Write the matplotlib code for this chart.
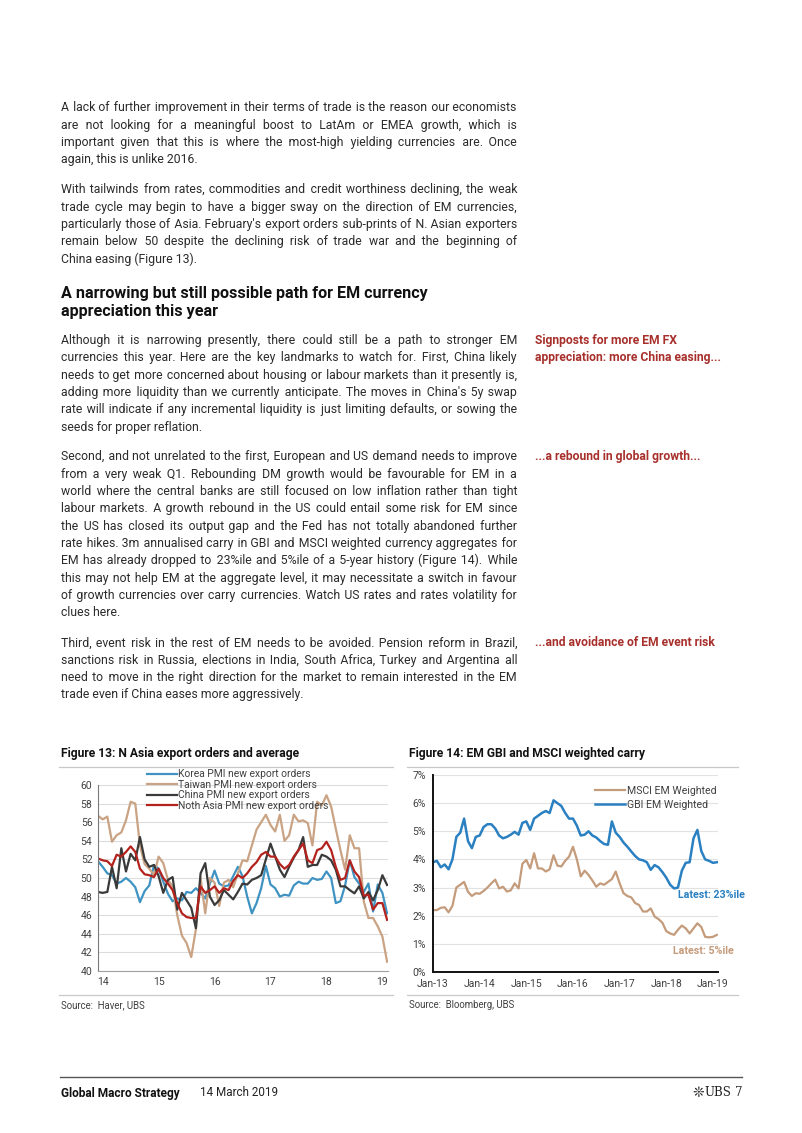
import numpy as np
import matplotlib
matplotlib.use("Agg")
import matplotlib.pyplot as plt
from matplotlib.lines import Line2D

# ---------------- data ----------------
# Figure 13: monthly PMI new export orders, Dec-2013 .. Feb-2019
fig13_ticklabels = ["14", "15", "16", "17", "18", "19"]
korea = [51.8, 51.2, 50.5, 50.3, 49.4, 49.6, 50.0, 49.6, 49.0, 47.4,
         48.6, 49.2, 51.4, 51.0, 49.6, 48.3, 47.5, 47.8, 47.6, 48.5,
         48.4, 48.9, 48.4, 47.8, 49.4, 50.8, 49.4, 49.1, 49.2, 50.2,
         51.2, 50.2, 48.0, 46.2, 47.3, 48.9, 51.3, 49.3, 48.9, 48.0,
         48.2, 48.1, 49.2, 49.6, 49.4, 49.4, 50.0, 49.8, 49.9, 50.7,
         50.0, 47.3, 47.5, 49.2, 51.9, 50.1, 49.4, 48.5, 49.4, 46.4,
         49.3, 48.4, 46.2]
taiwan = [56.7, 56.3, 56.6, 53.9, 54.6, 54.9, 56.2, 58.2, 58.0, 53.5,
          51.5, 51.0, 50.3, 52.3, 51.6, 49.8, 49.1, 46.0, 43.8, 43.0,
          41.5, 44.5, 50.0, 46.2, 50.0, 49.5, 47.0, 49.5, 49.8, 49.0,
          50.5, 51.9, 51.8, 53.5, 55.2, 56.0, 56.8, 55.7, 55.0, 56.8,
          54.0, 54.6, 56.8, 56.1, 56.2, 55.9, 53.5, 58.2, 57.8, 58.9,
          57.7, 55.3, 53.0, 50.9, 54.6, 53.2, 53.2, 47.5, 45.7, 45.7,
          44.8, 43.7, 41.0]
china = [48.5, 48.4, 48.5, 51.2, 48.9, 53.2, 50.7, 52.6, 51.9, 54.4,
         52.0, 51.2, 51.4, 50.2, 48.4, 49.8, 50.1, 46.6, 48.4, 47.6,
         46.8, 44.6, 50.5, 51.6, 48.0, 47.1, 47.6, 48.7, 48.2, 47.7,
         48.5, 49.4, 49.3, 49.8, 50.0, 50.3, 52.0, 53.7, 52.3, 50.9,
         50.1, 51.2, 52.2, 53.0, 54.4, 51.2, 51.4, 51.4, 52.5, 52.3,
         51.9, 50.9, 49.1, 49.1, 48.7, 48.35, 49.1, 47.8, 48.5, 47.6,
         48.7, 50.3, 49.25]
north_asia = [52.1, 51.9, 51.8, 51.3, 52.5, 52.3, 52.8, 53.4, 52.8, 51.0,
              50.4, 50.3, 50.1, 51.0, 50.0, 49.4, 48.7, 47.3, 46.2, 45.8,
              45.7, 45.7, 49.1, 48.4, 48.7, 49.1, 48.4, 48.9, 48.7, 49.7,
              50.3, 50.0, 50.5, 51.2, 51.7, 52.5, 52.8, 52.3, 52.3, 51.5,
              51.0, 51.4, 52.3, 53.0, 53.7, 51.9, 51.6, 53.0, 53.2, 53.9,
              53.0, 51.2, 49.8, 50.0, 51.9, 50.7, 50.1, 48.1, 48.2, 46.6,
              47.3, 47.3, 45.5]
fig13_series = ["Korea PMI new export orders", "Taiwan PMI new export orders",
                "China PMI new export orders", "Noth Asia PMI new export orders"]

# Figure 14: 3m annualised carry (%), monthly Jan-2013 .. Feb-2019
fig14_ticklabels = ["Jan-13", "Jan-14", "Jan-15", "Jan-16", "Jan-17", "Jan-18", "Jan-19"]
gbi_em = [3.9, 3.95, 3.72, 3.82, 3.65, 4.0, 4.8, 4.95, 5.45, 4.65,
          4.4, 4.8, 4.85, 5.15, 5.25, 5.25, 5.1, 4.85, 4.75, 4.8,
          4.88, 4.98, 4.88, 5.3, 5.35, 5.05, 5.45, 5.55, 5.65, 5.72,
          5.65, 6.1, 6.0, 5.9, 5.65, 5.45, 5.45, 5.2, 4.85, 4.88,
          5.0, 4.85, 4.78, 4.65, 4.55, 4.52, 5.35, 4.95, 4.8, 4.6,
          4.45, 4.28, 4.12, 4.0, 3.97, 3.9, 3.63, 3.8, 3.72, 3.55,
          3.35, 3.1, 2.97, 3.0, 3.6, 3.88, 3.9, 4.75, 5.05, 4.3,
          4.0, 3.95, 3.88, 3.9]
msci_em = [2.2, 2.2, 2.28, 2.3, 2.12, 2.35, 3.0, 3.1, 3.2, 2.85,
           2.7, 2.8, 2.78, 2.88, 3.0, 3.15, 3.28, 2.97, 3.03, 2.86,
           2.9, 3.15, 2.97, 3.85, 3.98, 3.68, 4.22, 3.68, 3.68, 3.57,
           3.65, 4.15, 3.78, 3.75, 3.95, 4.1, 4.45, 4.0, 3.4, 3.6,
           3.45, 3.25, 3.03, 3.15, 3.1, 3.2, 3.3, 3.57, 3.15, 2.8,
           2.7, 2.65, 2.45, 2.38, 2.15, 2.15, 2.26, 1.97, 1.88, 1.75,
           1.45, 1.37, 1.32, 1.5, 1.65, 1.55, 1.37, 1.55, 1.73, 1.6,
           1.25, 1.23, 1.25, 1.32]
fig14_series = ["MSCI EM Weighted", "GBI EM Weighted"]

# ---------------- page text ----------------
para1 = ["A lack of further improvement in their terms of trade is the reason our economists",
         "are not looking for a meaningful boost to LatAm or EMEA growth, which is",
         "important given that this is where the most-high yielding currencies are. Once",
         "again, this is unlike 2016."]
para2 = ["With tailwinds from rates, commodities and credit worthiness declining, the weak",
         "trade cycle may begin to have a bigger sway on the direction of EM currencies,",
         "particularly those of Asia. February's export orders sub-prints of N. Asian exporters",
         "remain below 50 despite the declining risk of trade war and the beginning of",
         "China easing (Figure 13)."]
heading = ["A narrowing but still possible path for EM currency", "appreciation this year"]
para3 = ["Although it is narrowing presently, there could still be a path to stronger EM",
         "currencies this year. Here are the key landmarks to watch for. First, China likely",
         "needs to get more concerned about housing or labour markets than it presently is,",
         "adding more liquidity than we currently anticipate. The moves in China's 5y swap",
         "rate will indicate if any incremental liquidity is just limiting defaults, or sowing the",
         "seeds for proper reflation."]
para4 = ["Second, and not unrelated to the first, European and US demand needs to improve",
         "from a very weak Q1. Rebounding DM growth would be favourable for EM in a",
         "world where the central banks are still focused on low inflation rather than tight",
         "labour markets. A growth rebound in the US could entail some risk for EM since",
         "the US has closed its output gap and the Fed has not totally abandoned further",
         "rate hikes. 3m annualised carry in GBI and MSCI weighted currency aggregates for",
         "EM has already dropped to 23%ile and 5%ile of a 5-year history (Figure 14). While",
         "this may not help EM at the aggregate level, it may necessitate a switch in favour",
         "of growth currencies over carry currencies. Watch US rates and rates volatility for",
         "clues here."]
para5 = ["Third, event risk in the rest of EM needs to be avoided. Pension reform in Brazil,",
         "sanctions risk in Russia, elections in India, South Africa, Turkey and Argentina all",
         "need to move in the right direction for the market to remain interested in the EM",
         "trade even if China eases more aggressively."]

W, H = 802, 1133
FONT = "Roboto"
BODY = [FONT, "DejaVu Sans"]
TXT = "#2b2b2b"
RED = "#a8302c"

fig = plt.figure(figsize=(W / 100, H / 100), dpi=100)
fig.patch.set_facecolor("white")
renderer = fig.canvas.get_renderer()


def fx(x):
    return x / W


def fy(y):
    return 1 - y / H


_cache = {}


def tw(s, fs):
    key = (s, fs)
    if key not in _cache:
        t = fig.text(0, 0, s, fontsize=fs, family=BODY)
        _cache[key] = t.get_window_extent(renderer).width
        t.remove()
    return _cache[key]


X0, X1 = 61, 517
DY = 17.35
BASE = 3.8  # baseline offset from visual line centre (px)
paras = [(para1, 107.5), (para2, 189.5), (para3, 340.0), (para4, 456.5), (para5, 642.5)]

# font size so that the densest full line fits the column
fs0 = 9.0
ratios = []
for lines, _ in paras:
    for ln in lines[:-1]:
        ratios.append((X1 - X0) / tw(ln, fs0))
FS = round(fs0 * min(ratios) * 0.99, 2)

HAIR = "\u200a"
sp1 = tw("n n", FS) - 2 * tw("n", FS)            # one ordinary space between words
spk = tw("n  n", FS) - tw("n n", FS)             # each extra ordinary space
hsp = (tw("n" + HAIR * 10 + "n", FS) - 2 * tw("n", FS)) / 10.0   # hair space


def justify(words):
    """Return one string whose inter-word gaps are padded with spaces so that
    the line fills the column width."""
    ws = [tw(w, FS) for w in words]
    gap = (X1 - X0 - sum(ws)) / (len(words) - 1)
    out = words[0]
    err = 0.0
    for w in words[1:]:
        g = gap + err
        k = 1 + max(0, int((g - sp1) // spk)) if g > sp1 else 1
        used = sp1 + (k - 1) * spk
        h = max(0, int(round((g - used) / hsp))) if hsp > 0.05 else 0
        used += h * hsp
        err = g - used
        out += " " * k + HAIR * h + w
    return out


def draw_para(lines, y0):
    for k, ln in enumerate(lines):
        y = y0 + k * DY + BASE
        s = ln if k == len(lines) - 1 else justify(ln.split())
        fig.text(fx(X0), fy(y), s, fontsize=FS, family=BODY, color=TXT,
                 ha="left", va="baseline")


for lines, y0 in paras:
    draw_para(lines, y0)

for k, h in enumerate(heading):
    fig.text(fx(61), fy(293 + k * 18.2 + 4.8), h, fontsize=11.6, family=FONT, weight="bold",
             color="#111111", ha="left", va="baseline")

side = [("Signposts for more EM FX", 340.0), ("appreciation: more China easing...", 357.3),
        ("...a rebound in global growth...", 456.5), ("...and avoidance of EM event risk", 642.5)]
for s, y in side:
    fig.text(fx(535), fy(y + BASE), s, fontsize=8.7, family=FONT, weight="bold", color=RED,
             ha="left", va="baseline")

# ---------------- figure titles / rules / sources ----------------
fig.text(fx(61), fy(756.5), "Figure 13: N Asia export orders and average", fontsize=8.7,
         family=FONT, weight="bold", color="#111111", ha="left", va="baseline")
fig.text(fx(409), fy(756.5), "Figure 14: EM GBI and MSCI weighted carry", fontsize=8.7,
         family=FONT, weight="bold", color="#111111", ha="left", va="baseline")
for (a, b) in [(59, 393), (407, 738)]:
    for y in (767, 995):
        fig.add_artist(Line2D([fx(a), fx(b)], [fy(y), fy(y)], color="#c8c8c8", lw=0.9))
fig.text(fx(61), fy(1008), "Source:  Haver, UBS", fontsize=6.9, family=FONT,
         color="#404040", ha="left", va="baseline")
fig.text(fx(409), fy(1008), "Source:  Bloomberg, UBS", fontsize=6.9, family=FONT,
         color="#404040", ha="left", va="baseline")

# ---------------- Figure 13 ----------------
ax1 = fig.add_axes([fx(98), fy(971), 290 / W, 186 / H])
x13 = np.arange(len(korea))
cols13 = ["#3f93c2", "#c9a384", "#3a3a3a", "#b3221d"]
for ser, lab, c in zip([korea, taiwan, china, north_asia], fig13_series, cols13):
    ax1.plot(x13, ser, color=c, lw=1.6, label=lab, solid_joinstyle="round")
ax1.set_xlim(0, 62.2)
ax1.set_ylim(40, 60)
ax1.set_yticks(np.arange(40, 61, 2))
ax1.set_xticks([1, 13, 25, 37, 49, 61])
ax1.set_xticklabels(fig13_ticklabels)
ax1.grid(axis="y", color="#dcdcdc", lw=0.8)
ax1.set_axisbelow(True)
for s in ["top", "right"]:
    ax1.spines[s].set_visible(False)
ax1.spines["left"].set_color("#7a7a7a")
ax1.spines["bottom"].set_color("#a0a0a0")
ax1.spines["left"].set_linewidth(0.8)
ax1.spines["bottom"].set_linewidth(0.8)
ax1.tick_params(length=0, labelsize=7.5, labelcolor="#404040", pad=4)
for t in ax1.get_xticklabels() + ax1.get_yticklabels():
    t.set_family(FONT)
leg1 = ax1.legend(loc="upper left", bbox_to_anchor=(0.168, 1.085), frameon=False,
                  handlelength=2.9, handletextpad=0.15, labelspacing=0.06,
                  borderpad=0, borderaxespad=0, prop={"family": FONT, "size": 7.4})
for t in leg1.get_texts():
    t.set_color("#404040")

# ---------------- Figure 14 ----------------
ax2 = fig.add_axes([fx(433), fy(972), 285 / W, 197 / H])
x14 = np.arange(len(gbi_em))
ax2.plot(x14, msci_em, color="#c49b7b", lw=1.6, label=fig14_series[0])
ax2.plot(x14, gbi_em, color="#2a80c1", lw=1.8, label=fig14_series[1])
ax2.set_xlim(0, 73.3)
ax2.set_ylim(0, 7)
ax2.set_yticks(np.arange(0, 8, 1))
ax2.set_yticklabels([f"{v}%" for v in range(8)])
ax2.set_xticks(np.arange(0, 73, 12))
ax2.set_xticklabels(fig14_ticklabels)
ax2.grid(axis="y", color="#e2e2e2", lw=0.8)
ax2.set_axisbelow(True)
for s in ["top", "right"]:
    ax2.spines[s].set_visible(False)
for s in ["left", "bottom"]:
    ax2.spines[s].set_color("#111111")
    ax2.spines[s].set_linewidth(1.4)
ax2.tick_params(length=0, labelsize=7.5, labelcolor="#404040", pad=5)
for t in ax2.get_xticklabels() + ax2.get_yticklabels():
    t.set_family(FONT)
leg2 = ax2.legend(loc="upper left", bbox_to_anchor=(0.567, 0.945), frameon=False,
                  handlelength=2.9, handletextpad=0.15, labelspacing=0.4,
                  borderpad=0, borderaxespad=0, prop={"family": FONT, "size": 7.6})
for t in leg2.get_texts():
    t.set_color("#404040")
fig.text(fx(678), fy(897.5), "Latest: 23%ile", fontsize=7.7, family=FONT, weight="bold",
         color="#2a80c1", ha="left", va="baseline")
fig.text(fx(673), fy(954.5), "Latest: 5%ile", fontsize=7.7, family=FONT, weight="bold",
         color="#c49b7b", ha="left", va="baseline")

# ---------------- footer ----------------
fig.add_artist(Line2D([fx(60), fx(742)], [fy(1077), fy(1077)], color="#555555", lw=1.0))
fig.text(fx(61), fy(1096.5), "Global Macro Strategy", fontsize=8.6, family=FONT, weight="bold",
         color="#111111", ha="left", va="baseline")
fig.text(fx(200), fy(1096.5), "14 March 2019", fontsize=8.4, family=FONT,
         color="#222222", ha="left", va="baseline")
fig.text(fx(731), fy(1096.5), "UBS", fontsize=8.6, family="DejaVu Serif",
         color="#222222", ha="right", va="baseline")
fig.text(fx(742), fy(1096.5), "7", fontsize=8.6, family="DejaVu Serif",
         color="#222222", ha="right", va="baseline")
fig.text(fx(704), fy(1093), "\u274a", fontsize=10, family="DejaVu Sans",
         color="#222222", ha="right", va="center")

fig.savefig("out.png", dpi=100)
